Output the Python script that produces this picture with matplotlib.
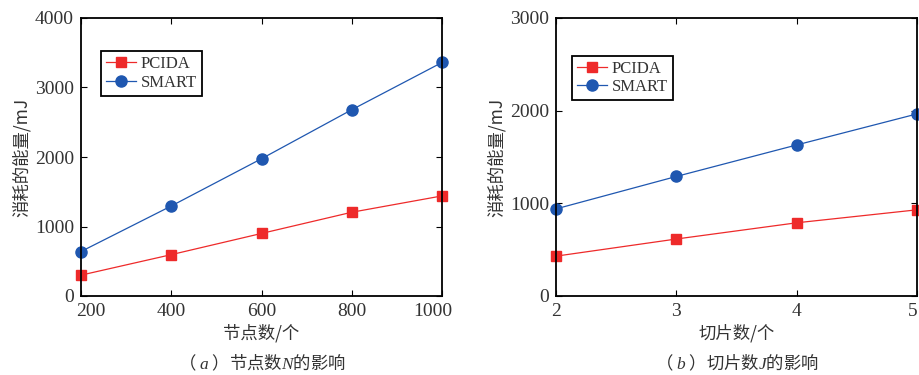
import matplotlib
matplotlib.use('Agg')
import matplotlib.pyplot as plt
import matplotlib.transforms as mtransforms

# data
nodes = [200, 400, 600, 800, 1000]
pcida_nodes = [300, 595, 900, 1205, 1440]
smart_nodes = [640, 1295, 1975, 2680, 3360]

slices = [2, 3, 4, 5]
pcida_slices = [430, 615, 790, 930]
smart_slices = [940, 1290, 1630, 1965]

plt.rcParams['mathtext.fontset'] = 'custom'
plt.rcParams['mathtext.it'] = 'Liberation Serif:italic'
plt.rcParams['mathtext.rm'] = 'Liberation Serif'

red = '#ee2a2a'
blue = '#1f57b0'
grey = '#333333'
serif = 'Liberation Serif'
cjk = ['Noto Sans CJK SC', 'DejaVu Sans']

fig = plt.figure(figsize=(9.19, 3.75), dpi=100)
ax1 = fig.add_axes([81/919, 1-296/375, 361/919, 278/375])
ax2 = fig.add_axes([556/919, 1-296/375, 361/919, 278/375])


def nudge(lab, px):
    lab.set_transform(lab.get_transform() + mtransforms.ScaledTranslation(px/100, 0, fig.dpi_scale_trans))


def style(ax, xs, xlim, ylim, yticks, xlabel, caption, leg_anchor):
    ax.set_xlim(*xlim)
    ax.set_ylim(*ylim)
    ax.set_xticks(xs)
    ax.set_yticks(yticks)
    ax.tick_params(direction='in', top=True, right=True, length=4, width=0.8,
                   labelsize=14, labelcolor=grey, pad=5)
    for lab in ax.get_xticklabels() + ax.get_yticklabels():
        lab.set_family(serif)
    for s in ax.spines.values():
        s.set_linewidth(1.3)
    ax.set_ylabel('消耗的能量/mJ', family=cjk, fontsize=12.5, color=grey, labelpad=3)
    ax.set_xlabel(xlabel, family=cjk, fontsize=12.5, color=grey, labelpad=3)
    ax.text(0.5, (296 - 363) / 278, caption, transform=ax.transAxes, ha='center', va='center',
            family=cjk, fontsize=12.5, color=grey)
    leg = ax.legend(loc='upper left', bbox_to_anchor=leg_anchor, fancybox=False,
                    framealpha=1, edgecolor='black', handlelength=1.8,
                    handletextpad=0.3, borderpad=0.3, labelspacing=0.15,
                    borderaxespad=0, prop={'family': serif, 'size': 12})
    leg.get_frame().set_linewidth(1.3)
    for t in leg.get_texts():
        t.set_color(grey)


ax1.plot(nodes, pcida_nodes, color=red, lw=0.9, marker='s', ms=6.5, label='PCIDA', clip_on=False)
ax1.plot(nodes, smart_nodes, color=blue, lw=0.9, marker='o', ms=8, label='SMART', clip_on=False)
style(ax1, nodes, (200, 1000), (0, 4000), [0, 1000, 2000, 3000, 4000],
      '节点数/个', '（ $a$ ）节点数$N$的影响', (0.055, 0.881))

# MATLAB-like nudging of the edge labels inward
labs = ax1.get_xticklabels()
nudge(labs[0], 10)
nudge(labs[-1], -9)

ax2.plot(slices, pcida_slices, color=red, lw=0.9, marker='s', ms=6.5, label='PCIDA', clip_on=False)
ax2.plot(slices, smart_slices, color=blue, lw=0.9, marker='o', ms=8, label='SMART', clip_on=False)
style(ax2, slices, (2, 5), (0, 3000), [0, 1000, 2000, 3000],
      '切片数/个', '（ $b$ ）切片数$J$的影响', (0.044, 0.864))
nudge(ax2.get_xticklabels()[-1], -4)

fig.savefig('out.png', dpi=100)
